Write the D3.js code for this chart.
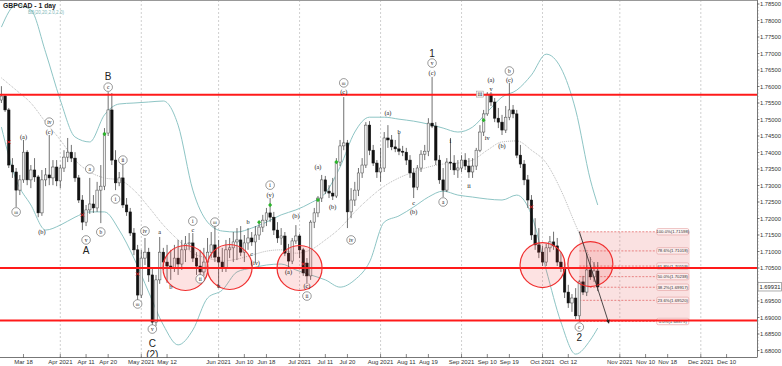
<!DOCTYPE html>
<html>
<head>
<meta charset="utf-8">
<script src="https://cdn.jsdelivr.net/npm/d3@7"></script>
<style>
  body { margin: 0; background: #fff; }
  svg { display: block; font-family: "Liberation Sans", Arial, sans-serif; }
</style>
</head>
<body>
<div id="vis"></div>
<script>
// GBPCAD daily chart with wave counts, bands and fib levels

const FRAME_WIDTH = 782;
const FRAME_HEIGHT = 366;
const PLOT = {right: 757, bottom: 357};

// first candle and the end of the time axis (axis runs on trading days)
const FIRST_DAY = '2021-03-10';
const LAST_AXIS_DAY = '2021-12-31';

// one candle per trading day from FIRST_DAY: [open, high, low, close]
const candles = [
  // March
  [1.7559,1.7601,1.7550,1.7571],[1.7571,1.7577,1.7523,1.7529],[1.7529,1.7535,1.7353,1.7362],
  [1.7362,1.7383,1.7323,1.7341],[1.7341,1.7353,1.7235,1.7286],[1.7286,1.7332,1.7271,1.7317],
  [1.7317,1.7438,1.7308,1.7401],[1.7401,1.7407,1.7301,1.7317],[1.7317,1.7362,1.7292,1.7347],
  [1.7347,1.7383,1.7311,1.7326],[1.7326,1.7332,1.7204,1.7217],[1.7217,1.7347,1.7208,1.7317],
  [1.7317,1.7353,1.7298,1.7332],[1.7332,1.7453,1.7301,1.7323],[1.7323,1.7377,1.7301,1.7356],
  [1.7356,1.7377,1.7298,1.7314],
  // April
  [1.7314,1.7362,1.7292,1.7353],[1.7353,1.7407,1.7341,1.7386],[1.7386,1.7444,1.7371,1.7401],
  [1.7401,1.7423,1.7371,1.7383],[1.7383,1.7401,1.7311,1.7323],[1.7323,1.7332,1.7247,1.7256],
  [1.7256,1.7271,1.7165,1.7189],[1.7189,1.7241,1.7177,1.7226],[1.7226,1.7323,1.7214,1.7244],
  [1.7244,1.7271,1.7217,1.7232],[1.7232,1.7311,1.7220,1.7286],[1.7286,1.7362,1.7186,1.7298],
  [1.7298,1.7474,1.7286,1.7459],[1.7459,1.7583,1.7450,1.7529],[1.7529,1.7580,1.7362,1.7377],
  [1.7377,1.7407,1.7286,1.7308],[1.7308,1.7341,1.7298,1.7323],[1.7323,1.7371,1.7232,1.7241],
  [1.7241,1.7262,1.7208,1.7220],[1.7220,1.7232,1.7147,1.7156],[1.7156,1.7171,1.7089,1.7105],
  [1.7105,1.7120,1.6953,1.6968],
  // May
  [1.6968,1.7105,1.6959,1.7080],[1.7080,1.7141,1.7059,1.7098],[1.7098,1.7111,1.7008,1.7029],
  [1.7029,1.7050,1.6868,1.6886],[1.6886,1.7029,1.6874,1.7014],[1.7014,1.7144,1.7002,1.7098],
  [1.7098,1.7111,1.7044,1.7068],[1.7068,1.7120,1.7005,1.7056],[1.7056,1.7105,1.7014,1.7050],
  [1.7050,1.7120,1.7038,1.7080],[1.7080,1.7135,1.7029,1.7062],[1.7062,1.7135,1.7044,1.7105],
  [1.7105,1.7147,1.7068,1.7123],[1.7123,1.7156,1.7105,1.7126],[1.7126,1.7156,1.7068,1.7080],
  [1.7080,1.7098,1.7029,1.7056],[1.7056,1.7105,1.7008,1.7038],[1.7038,1.7111,1.7026,1.7068],
  [1.7068,1.7141,1.7050,1.7098],[1.7098,1.7159,1.7080,1.7120],[1.7120,1.7177,1.7068,1.7083],
  // June
  [1.7083,1.7135,1.6989,1.7068],[1.7068,1.7111,1.7038,1.7050],[1.7050,1.7135,1.7038,1.7105],
  [1.7105,1.7141,1.7080,1.7111],[1.7111,1.7159,1.7068,1.7129],[1.7129,1.7171,1.7074,1.7135],
  [1.7135,1.7177,1.7086,1.7098],[1.7098,1.7150,1.7068,1.7126],[1.7126,1.7171,1.7105,1.7141],
  [1.7141,1.7159,1.7117,1.7129],[1.7129,1.7177,1.7068,1.7150],[1.7150,1.7189,1.7135,1.7174],
  [1.7174,1.7211,1.7159,1.7195],[1.7195,1.7232,1.7177,1.7217],[1.7217,1.7262,1.7189,1.7204],
  [1.7204,1.7220,1.7150,1.7165],[1.7165,1.7189,1.7126,1.7141],[1.7141,1.7171,1.7120,1.7147],
  [1.7147,1.7159,1.7086,1.7095],[1.7095,1.7123,1.7050,1.7071],[1.7071,1.7141,1.7062,1.7132],
  [1.7132,1.7180,1.7123,1.7147],
  // July
  [1.7147,1.7153,1.7080,1.7105],[1.7105,1.7111,1.7026,1.7035],[1.7065,1.7080,1.7002,1.7026],
  [1.7026,1.7195,1.7014,1.7189],[1.7189,1.7232,1.7171,1.7217],[1.7217,1.7268,1.7204,1.7262],
  [1.7262,1.7332,1.7250,1.7317],[1.7317,1.7329,1.7274,1.7283],[1.7283,1.7301,1.7262,1.7277],
  [1.7277,1.7323,1.7256,1.7268],[1.7268,1.7383,1.7262,1.7371],[1.7371,1.7438,1.7359,1.7420],
  [1.7420,1.7568,1.7407,1.7429],[1.7429,1.7438,1.7171,1.7220],[1.7220,1.7292,1.7201,1.7256],
  [1.7256,1.7311,1.7238,1.7286],[1.7286,1.7353,1.7268,1.7338],[1.7338,1.7383,1.7323,1.7362],
  [1.7362,1.7492,1.7353,1.7483],[1.7483,1.7495,1.7392,1.7407],[1.7407,1.7423,1.7359,1.7368],
  [1.7368,1.7377,1.7323,1.7341],
  // August
  [1.7341,1.7414,1.7311,1.7353],[1.7353,1.7462,1.7341,1.7444],[1.7444,1.7483,1.7414,1.7438],
  [1.7438,1.7453,1.7407,1.7417],[1.7417,1.7438,1.7401,1.7411],[1.7411,1.7459,1.7392,1.7404],
  [1.7404,1.7420,1.7389,1.7401],[1.7401,1.7414,1.7362,1.7377],[1.7377,1.7392,1.7323,1.7338],
  [1.7338,1.7353,1.7262,1.7295],[1.7295,1.7362,1.7286,1.7353],[1.7353,1.7407,1.7341,1.7395],
  [1.7395,1.7423,1.7377,1.7404],[1.7404,1.7504,1.7389,1.7489],[1.7489,1.7629,1.7474,1.7480],
  [1.7480,1.7492,1.7362,1.7377],[1.7377,1.7392,1.7305,1.7317],[1.7317,1.7353,1.7265,1.7286],
  [1.7286,1.7383,1.7280,1.7371],[1.7371,1.7444,1.7347,1.7368],[1.7368,1.7392,1.7332,1.7347],
  [1.7347,1.7377,1.7323,1.7353],
  // September
  [1.7353,1.7392,1.7341,1.7377],[1.7377,1.7398,1.7347,1.7359],[1.7359,1.7383,1.7323,1.7341],
  [1.7341,1.7383,1.7323,1.7359],[1.7359,1.7414,1.7347,1.7407],[1.7407,1.7483,1.7401,1.7462],
  [1.7462,1.7529,1.7450,1.7517],[1.7517,1.7583,1.7511,1.7577],[1.7577,1.7583,1.7541,1.7553],
  [1.7553,1.7565,1.7492,1.7504],[1.7504,1.7535,1.7474,1.7492],[1.7492,1.7514,1.7453,1.7468],
  [1.7468,1.7541,1.7459,1.7507],[1.7507,1.7611,1.7498,1.7529],[1.7529,1.7544,1.7504,1.7517],
  [1.7517,1.7529,1.7383,1.7392],[1.7392,1.7423,1.7353,1.7365],[1.7365,1.7377,1.7301,1.7317],
  [1.7317,1.7332,1.7232,1.7256],[1.7256,1.7271,1.7135,1.7150],[1.7150,1.7201,1.7105,1.7120],
  [1.7120,1.7171,1.7080,1.7098],
  // October
  [1.7098,1.7117,1.7056,1.7068],[1.7068,1.7123,1.7056,1.7111],[1.7111,1.7147,1.7098,1.7129],
  [1.7129,1.7160,1.7105,1.7117],[1.7117,1.7141,1.7056,1.7068],[1.7068,1.7098,1.7038,1.7050],
  [1.7050,1.7068,1.6959,1.6977],[1.6977,1.6999,1.6929,1.6944],[1.6944,1.6971,1.6917,1.6959],
  [1.6959,1.6989,1.6895,1.6905],[1.6905,1.7014,1.6888,1.7008],[1.7008,1.7026,1.6968,1.6977],
  [1.6977,1.7095,1.6965,1.7044],[1.7044,1.7083,1.7014,1.7023],[1.7023,1.7068,1.7008,1.7041],
  [1.7041,1.7068,1.6980,1.6993]
];

// Bollinger band readings
const bandDates = ['2021-03-10','2021-03-16','2021-03-22','2021-03-26','2021-04-01','2021-04-07',
  '2021-04-13','2021-04-19','2021-04-23','2021-04-29','2021-05-05','2021-05-11','2021-05-17',
  '2021-05-21','2021-05-27','2021-06-02','2021-06-08','2021-06-14','2021-06-18','2021-06-24',
  '2021-06-30','2021-07-06','2021-07-12','2021-07-16','2021-07-22','2021-07-28','2021-08-03',
  '2021-08-09','2021-08-13','2021-08-19','2021-08-25','2021-08-31','2021-09-06','2021-09-10',
  '2021-09-16','2021-09-22','2021-09-28','2021-10-04','2021-10-08','2021-10-14','2021-10-20',
  '2021-10-22'];
const bbUpper = [1.7780,1.7847,1.7832,1.7704,1.7559,1.7447,1.7432,1.7514,1.7547,1.7550,
  1.7553,1.7556,1.7483,1.7286,1.7189,1.7162,1.7159,1.7171,1.7189,1.7211,1.7226,1.7247,1.7277,
  1.7356,1.7462,1.7507,1.7507,1.7501,1.7495,1.7486,1.7474,1.7462,1.7477,1.7523,1.7568,1.7589,
  1.7635,1.7698,1.7656,1.7529,1.7317,1.7241];
const bbMiddle = [1.7626,1.7589,1.7550,1.7492,1.7438,1.7377,1.7341,1.7323,1.7317,1.7286,
  1.7235,1.7180,1.7135,1.7095,1.7080,1.7071,1.7077,1.7089,1.7101,1.7105,1.7095,1.7105,1.7135,
  1.7171,1.7220,1.7262,1.7298,1.7323,1.7341,1.7356,1.7365,1.7368,1.7377,1.7407,1.7432,1.7435,
  1.7407,1.7368,1.7286,1.7180,1.7080,1.7044];
const bbLower = [1.7477,1.7317,1.7241,1.7165,1.7180,1.7204,1.7220,1.7220,1.7165,1.7080,
  1.6977,1.6877,1.6817,1.6862,1.6959,1.6983,1.7038,1.7050,1.7059,1.7062,1.7044,1.7029,1.7014,
  1.6992,1.7014,1.7068,1.7189,1.7208,1.7235,1.7265,1.7283,1.7271,1.7265,1.7259,1.7256,1.7271,
  1.7211,1.7044,1.6886,1.6789,1.6832,1.6868];

// horizontal support / resistance lines
const levels = [1.7575, 1.7050, 1.6891];
// circled zones [date, price]
const zones = [['2021-05-19',1.7050],['2021-06-04',1.7053],['2021-07-01',1.7050],
  ['2021-10-01',1.7059],['2021-10-20',1.7062]];

// fibonacci retracement
const fibStart = '2021-10-15';
const fibEnd = '2021-11-26';
const fibPct = ['0.0','23.6','38.2','50.0','61.8','78.6','100.0'];
const fibPrices = [1.68879,1.69520,1.69917,1.70238,1.70559,1.71018,1.71598];

const arrowFrom = ['2021-10-15', 1.7160];
const arrowTo = ['2021-10-27', 1.6883];
const lastPrice = 1.69931;

// indicator markers [date, price]
const redMarks = [['2021-03-12',1.7432],['2021-04-09',1.7211],['2021-04-30',1.7032],
  ['2021-07-02',1.7062],['2021-09-28',1.7235]];
const greenMarks = [['2021-04-19',1.7456],['2021-06-16',1.7189],['2021-06-21',1.7241],
  ['2021-07-08',1.7256],['2021-07-15',1.7371],['2021-09-09',1.7498]];

// wave labels [date, price, text, kind]
const waveLabels = [
  ['2021-03-16',1.7220,'iii','circ'],['2021-03-18',1.7447,'(a)','txt'],
  ['2021-03-29',1.7492,'iv','circ'],['2021-03-29',1.7462,'(c)','txt'],
  ['2021-03-25',1.7159,'(b)','txt'],['2021-04-13',1.7350,'a','circ'],
  ['2021-04-12',1.7135,'v','circ'],['2021-04-12',1.7102,'A','big'],
  ['2021-04-16',1.7159,'b','circ'],['2021-04-20',1.7632,'B','big'],
  ['2021-04-20',1.7598,'c','circ'],['2021-04-22',1.7259,'i','circ'],
  ['2021-04-26',1.7377,'ii','circ'],['2021-05-04',1.7162,'iv','circ'],
  ['2021-04-30',1.6941,'iii','circ'],['2021-05-06',1.6865,'v','circ'],
  ['2021-05-06',1.6823,'C','big'],['2021-05-06',1.6789,'(2)','big'],
  ['2021-05-10',1.7159,'a','txt'],['2021-05-13',1.6992,'b','txt'],
  ['2021-05-21',1.7192,'i','circ'],['2021-05-21',1.7165,'c','txt'],
  ['2021-05-25',1.7017,'ii','circ'],['2021-05-31',1.7189,'iii','circ'],
  ['2021-06-01',1.6996,'b','txt'],['2021-06-11',1.7189,'b','txt'],
  ['2021-06-14',1.7092,'c','txt'],['2021-06-15',1.7065,'(iv)','txt'],
  ['2021-06-21',1.7301,'i','circ'],['2021-06-21',1.7271,'(v)','txt'],
  ['2021-06-28',1.7038,'(a)','txt'],['2021-06-30',1.7207,'(b)','txt'],
  ['2021-07-05',1.6996,'(c)','txt'],['2021-07-05',1.6965,'ii','circ'],
  ['2021-07-08',1.7356,'(a)','txt'],['2021-07-14',1.7235,'(b)','txt'],
  ['2021-07-19',1.7611,'iii','circ'],['2021-07-19',1.7583,'(c)','txt'],
  ['2021-07-21',1.7135,'iv','circ'],['2021-08-04',1.7520,'(a)','txt'],
  ['2021-08-09',1.7462,'b','txt'],['2021-08-13',1.7247,'c','txt'],
  ['2021-08-13',1.7220,'(b)','txt'],['2021-08-20',1.7701,'1','big'],
  ['2021-08-20',1.7671,'v','circ'],['2021-08-20',1.7642,'(c)','txt'],
  ['2021-08-25',1.7250,'a','circ'],['2021-08-27',1.7435,'i','txt'],
  ['2021-09-03',1.7298,'ii','txt'],['2021-09-08',1.7577,'iii','box'],
  ['2021-09-10',1.7444,'iv','txt'],['2021-09-13',1.7620,'(a)','txt'],
  ['2021-09-13',1.7594,'v','txt'],['2021-09-16',1.7420,'(b)','txt'],
  ['2021-09-20',1.7647,'b','circ'],['2021-09-20',1.7620,'(c)','txt'],
  ['2021-10-15',1.6871,'c','circ'],['2021-10-15',1.6841,'2','big']
];

// axis ticks
const yTicks = [1.680,1.685,1.690,1.695,1.700,1.705,1.710,1.715,1.720,1.725,1.730,1.735,
  1.740,1.745,1.750,1.755,1.760,1.765,1.770,1.775,1.780,1.785];
const tickDates = ['2021-03-18','2021-04-01','2021-04-12','2021-04-20','2021-05-03','2021-05-12',
  '2021-06-01','2021-06-10','2021-06-18','2021-07-01','2021-07-12','2021-07-20','2021-08-02',
  '2021-08-11','2021-08-19','2021-09-01','2021-09-10','2021-09-20','2021-10-01','2021-10-12',
  '2021-11-01','2021-11-10','2021-11-18','2021-12-01','2021-12-10'];
const tickLabels = ['Mar 18','Apr 2021','Apr 11','Apr 20','May 2021','May 12','Jun 2021','Jun 10',
  'Jun 18','Jul 2021','Jul 11','Jul 20','Aug 2021','Aug 11','Aug 19','Sep 2021','Sep 10','Sep 19',
  'Oct 2021','Oct 12','Nov 2021','Nov 10','Nov 18','Dec 2021','Dec 10'];

// trading day list -> index lookup
const parse = d3.timeParse('%Y-%m-%d');
const fmt = d3.timeFormat('%Y-%m-%d');
const days = d3.timeDay.range(parse(FIRST_DAY), d3.timeDay.offset(parse(LAST_AXIS_DAY), 1))
  .filter(d => d.getDay() !== 0 && d.getDay() !== 6)
  .map(fmt);
const dayIndex = new Map(days.map((d, i) => [d, i]));
const idx = (date) => dayIndex.get(date);

const STEP = 3.681;
const X_SCALE = d3.scaleLinear()
  .domain([0, days.length - 1])
  .range([1.41, 1.41 + STEP * (days.length - 1)]);
const Y_SCALE = d3.scaleLinear()
  .domain([1.68, 1.785])
  .range([350.5, 4]);
const xd = (date) => X_SCALE(idx(date));

const FRAME = d3.select('#vis')
  .append('svg')
    .attr('width', FRAME_WIDTH)
    .attr('height', FRAME_HEIGHT);

FRAME.append('rect')
  .attr('width', FRAME_WIDTH).attr('height', FRAME_HEIGHT).attr('fill', '#fff');

FRAME.append('defs').append('clipPath').attr('id', 'plotclip')
  .append('rect').attr('x', 0).attr('y', 0).attr('width', PLOT.right).attr('height', PLOT.bottom);

FRAME.select('defs').append('marker')
  .attr('id', 'arrowhead')
  .attr('viewBox', '0 0 10 10').attr('refX', 8).attr('refY', 5)
  .attr('markerWidth', 5).attr('markerHeight', 5).attr('orient', 'auto')
  .append('path').attr('d', 'M0,0 L10,5 L0,10 z').attr('fill', '#222');

const plot = FRAME.append('g').attr('clip-path', 'url(#plotclip)');

// month grid lines
plot.selectAll('.grid')
  .data(tickDates.filter((d, i) => tickLabels[i].endsWith('2021')))
  .enter()
  .append('line')
    .attr('x1', d => xd(d)).attr('x2', d => xd(d))
    .attr('y1', 0).attr('y2', PLOT.bottom)
    .attr('stroke', '#c4c4c4').attr('stroke-width', 0.8)
    .attr('stroke-dasharray', '2,2');

// fib box
const fibX0 = xd(fibStart), fibX1 = xd(fibEnd);
plot.append('rect')
  .attr('x', fibX0).attr('width', fibX1 - fibX0)
  .attr('y', Y_SCALE(fibPrices[6]))
  .attr('height', Y_SCALE(fibPrices[0]) - Y_SCALE(fibPrices[6]))
  .attr('fill', 'rgba(232,120,120,0.22)');

fibPrices.forEach((p, i) => {
  const y = Y_SCALE(p);
  plot.append('line')
    .attr('x1', fibX0).attr('x2', fibX1 - 33)
    .attr('y1', y).attr('y2', y)
    .attr('stroke', '#e05a5a').attr('stroke-width', 0.7)
    .attr('stroke-dasharray', '2,1.5');
  plot.append('rect')
    .attr('x', fibX1 - 33).attr('y', y - 3.2)
    .attr('width', 32).attr('height', 6.4).attr('rx', 1.5)
    .attr('fill', i === 0 ? '#fff' : 'rgba(255,245,245,0.6)')
    .attr('stroke', '#e29a9a').attr('stroke-width', 0.6);
  plot.append('text')
    .attr('x', fibX1 - 17).attr('y', y + 1.5)
    .attr('text-anchor', 'middle')
    .attr('font-size', '4.3px').attr('fill', '#333')
    .text(fibPct[i] + '%(' + p.toFixed(5) + ')');
});

// Bollinger bands
const bandLine = (vals) => d3.line()
  .x((d, i) => xd(bandDates[i]))
  .y(d => Y_SCALE(d))
  .curve(d3.curveMonotoneX)(vals);

plot.append('path').attr('d', bandLine(bbUpper))
  .attr('fill', 'none').attr('stroke', '#8ec5c5').attr('stroke-width', 1);
plot.append('path').attr('d', bandLine(bbLower))
  .attr('fill', 'none').attr('stroke', '#8ec5c5').attr('stroke-width', 1);
plot.append('path').attr('d', bandLine(bbMiddle))
  .attr('fill', 'none').attr('stroke', '#9a9a9a').attr('stroke-width', 0.7)
  .attr('stroke-dasharray', '1,1');

// candles
const BODY = 2.5;
const candleG = plot.append('g');
candles.forEach((c, i) => {
  const [o, h, l, cl] = c;
  const x = X_SCALE(i);
  const up = cl >= o;
  candleG.append('line')
    .attr('x1', x).attr('x2', x)
    .attr('y1', Y_SCALE(h)).attr('y2', Y_SCALE(l))
    .attr('stroke', '#333').attr('stroke-width', 0.7);
  const top = Y_SCALE(Math.max(o, cl));
  const bot = Y_SCALE(Math.min(o, cl));
  candleG.append('rect')
    .attr('x', x - BODY / 2).attr('width', BODY)
    .attr('y', top).attr('height', Math.max(0.8, bot - top))
    .attr('fill', up ? '#eeeeee' : '#111')
    .attr('stroke', up ? '#444' : '#111').attr('stroke-width', 0.5);
});

// indicator markers
redMarks.forEach(m => {
  const x = xd(m[0]), y = Y_SCALE(m[1]);
  plot.append('path')
    .attr('d', `M${x-1.6},${y-1.6}L${x+1.6},${y+1.6}M${x-1.6},${y+1.6}L${x+1.6},${y-1.6}`)
    .attr('stroke', '#e02020').attr('stroke-width', 1);
});
greenMarks.forEach(m => {
  const x = xd(m[0]), y = Y_SCALE(m[1]);
  plot.append('path')
    .attr('d', `M${x},${y-2.2}L${x+2},${y}L${x},${y+2.2}L${x-2},${y}z`)
    .attr('fill', '#2bb52b');
});

// red horizontal levels
levels.forEach(p => {
  plot.append('line')
    .attr('x1', 0).attr('x2', PLOT.right)
    .attr('y1', Y_SCALE(p)).attr('y2', Y_SCALE(p))
    .attr('stroke', '#ff1a1a').attr('stroke-width', 2);
});

// circled zones
plot.selectAll('.zone')
  .data(zones)
  .enter()
  .append('circle')
    .attr('cx', d => xd(d[0])).attr('cy', d => Y_SCALE(d[1]))
    .attr('r', 22.5)
    .attr('fill', 'rgba(240,60,60,0.15)')
    .attr('stroke', '#f03030').attr('stroke-width', 1.2);

// projection arrow
plot.append('line')
  .attr('x1', xd(arrowFrom[0])).attr('y1', Y_SCALE(arrowFrom[1]))
  .attr('x2', xd(arrowTo[0])).attr('y2', Y_SCALE(arrowTo[1]))
  .attr('stroke', '#222').attr('stroke-width', 0.8)
  .attr('marker-end', 'url(#arrowhead)');

// wave labels
const SERIF = '"Liberation Serif", serif';
waveLabels.forEach(w => {
  const [date, price, txt, kind] = w;
  const x = xd(date), y = Y_SCALE(price);
  if (kind === 'circ') {
    plot.append('circle').attr('cx', x).attr('cy', y).attr('r', 4.3)
      .attr('fill', '#fff').attr('stroke', '#555').attr('stroke-width', 0.6);
    plot.append('text').attr('x', x).attr('y', y + 1.8)
      .attr('text-anchor', 'middle')
      .attr('font-family', SERIF)
      .attr('font-size', txt.length > 2 ? '4.6px' : '5.4px').attr('fill', '#111')
      .text(txt);
  } else if (kind === 'big') {
    plot.append('text').attr('x', x).attr('y', y + 3.6)
      .attr('text-anchor', 'middle')
      .attr('font-size', '10px').attr('fill', '#222')
      .text(txt);
  } else if (kind === 'box') {
    plot.append('rect').attr('x', x - 3.5).attr('y', y - 3).attr('width', 7).attr('height', 6)
      .attr('fill', '#f3f3f3').attr('stroke', '#999').attr('stroke-width', 0.5);
    plot.append('text').attr('x', x).attr('y', y + 1.8)
      .attr('text-anchor', 'middle')
      .attr('font-family', SERIF)
      .attr('font-size', '5.5px').attr('fill', '#111')
      .text(txt);
  } else {
    plot.append('text').attr('x', x).attr('y', y + 2.1)
      .attr('text-anchor', 'middle')
      .attr('font-family', SERIF)
      .attr('font-size', '6.3px').attr('fill', '#111')
      .text(txt);
  }
});

// frame lines
FRAME.append('line').attr('x1', 0).attr('x2', PLOT.right).attr('y1', 0.5).attr('y2', 0.5)
  .attr('stroke', '#999').attr('stroke-width', 1);
FRAME.append('line').attr('x1', PLOT.right + 0.5).attr('x2', PLOT.right + 0.5)
  .attr('y1', 0).attr('y2', PLOT.bottom)
  .attr('stroke', '#777').attr('stroke-width', 1);
FRAME.append('line').attr('x1', 0).attr('x2', PLOT.right + 0.5)
  .attr('y1', PLOT.bottom + 0.5).attr('y2', PLOT.bottom + 0.5)
  .attr('stroke', '#777').attr('stroke-width', 1);

// y axis (right)
d3.range(1.680, 1.7855, 0.001).forEach(v => {
  FRAME.append('line')
    .attr('x1', PLOT.right).attr('x2', PLOT.right + 1.5)
    .attr('y1', Y_SCALE(v)).attr('y2', Y_SCALE(v))
    .attr('stroke', '#777').attr('stroke-width', 0.6);
});
yTicks.forEach(v => {
  FRAME.append('line')
    .attr('x1', PLOT.right).attr('x2', PLOT.right + 2.5)
    .attr('y1', Y_SCALE(v)).attr('y2', Y_SCALE(v))
    .attr('stroke', '#555').attr('stroke-width', 0.7);
  // the last price tag covers the nearby label
  if (Math.abs(Y_SCALE(v) - Y_SCALE(lastPrice)) < 7) return;
  FRAME.append('text')
    .attr('x', PLOT.right + 3).attr('y', Y_SCALE(v) + 2)
    .attr('font-size', '5.8px').attr('fill', '#333')
    .text(v.toFixed(5));
});

// last price tag
FRAME.append('rect')
  .attr('x', PLOT.right + 1).attr('y', Y_SCALE(lastPrice) - 4.2)
  .attr('width', 23.5).attr('height', 8.4)
  .attr('fill', '#fff').attr('stroke', '#888').attr('stroke-width', 0.7);
FRAME.append('text')
  .attr('x', PLOT.right + 2.5).attr('y', Y_SCALE(lastPrice) + 2)
  .attr('font-size', '5.8px').attr('fill', '#222')
  .text(lastPrice.toFixed(5));

// x axis
tickDates.forEach((d, i) => {
  const x = xd(d);
  FRAME.append('line')
    .attr('x1', x).attr('x2', x)
    .attr('y1', PLOT.bottom - 3).attr('y2', PLOT.bottom + 1)
    .attr('stroke', '#555').attr('stroke-width', 0.7);
  FRAME.append('text')
    .attr('x', x).attr('y', PLOT.bottom + 7.3)
    .attr('text-anchor', 'middle')
    .attr('font-size', '6px').attr('fill', '#333')
    .text(tickLabels[i]);
});

// title
FRAME.append('text')
  .attr('x', 3).attr('y', 8)
  .attr('font-size', '6.8px').attr('font-weight', 'bold').attr('fill', '#222')
  .text('GBPCAD - 1 day');
FRAME.append('text')
  .attr('x', 28).attr('y', 14)
  .attr('font-size', '4.6px').attr('fill', '#7fb8b8')
  .text('BB(20,20,2.0,2.0)');
</script>
</body>
</html>
